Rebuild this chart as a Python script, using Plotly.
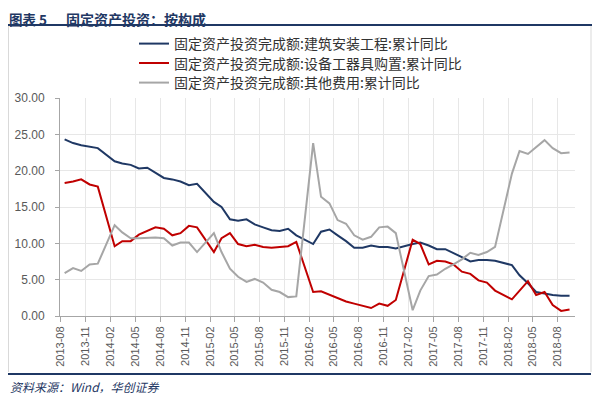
import plotly.graph_objects as go

# Months (Wind reports Jan+Feb together, so January is absent)
months = [
    "2013-08", "2013-09", "2013-10", "2013-11", "2013-12",
    "2014-02", "2014-03", "2014-04", "2014-05", "2014-06", "2014-07", "2014-08", "2014-09", "2014-10", "2014-11", "2014-12",
    "2015-02", "2015-03", "2015-04", "2015-05", "2015-06", "2015-07", "2015-08", "2015-09", "2015-10", "2015-11", "2015-12",
    "2016-02", "2016-03", "2016-04", "2016-05", "2016-06", "2016-07", "2016-08", "2016-09", "2016-10", "2016-11", "2016-12",
    "2017-02", "2017-03", "2017-04", "2017-05", "2017-06", "2017-07", "2017-08", "2017-09", "2017-10", "2017-11", "2017-12",
    "2018-02", "2018-03", "2018-04", "2018-05", "2018-06", "2018-07", "2018-08", "2018-09",
]

construction = [
    24.3, 23.8, 23.5, 23.3, 23.1,
    21.3, 21.0, 20.8, 20.3, 20.4, 19.7, 19.0, 18.8, 18.5, 18.0, 18.2,
    15.7, 15.0, 13.3, 13.1, 13.3, 12.6, 12.2, 11.8, 11.7, 12.0, 11.1,
    9.9, 11.6, 11.9, 11.1, 10.3, 9.4, 9.4, 9.7, 9.5, 9.5, 9.3,
    9.9, 10.1, 9.7, 9.2, 9.2, 8.7, 8.1, 7.5, 7.7, 7.7, 7.6,
    7.0, 5.6, 4.5, 3.3, 3.1, 2.9, 2.8, 2.8,
]

equipment = [
    18.3, 18.5, 18.8, 18.1, 17.8,
    9.6, 10.3, 10.3, 11.2, 11.7, 12.2, 12.0, 11.1, 11.4, 12.4, 12.2,
    8.8, 10.7, 11.4, 9.9, 9.6, 9.8, 9.5, 9.4, 9.5, 9.6, 10.2,
    3.3, 3.4, 2.9, 2.4, 2.0, 1.7, 1.4, 1.1, 1.7, 1.4, 2.2,
    10.5, 9.9, 7.1, 7.6, 7.5, 7.1, 6.1, 5.8, 4.9, 4.6, 3.5,
    2.3, 3.5, 4.8, 2.9, 3.3, 1.5, 0.7, 0.9,
]

other = [
    5.9, 6.6, 6.2, 7.1, 7.2,
    12.5, 11.5, 10.7, 10.7, 10.8, 10.8, 10.7, 9.7, 10.1, 10.1, 8.8,
    11.4, 8.8, 6.5, 5.4, 4.7, 5.1, 4.6, 3.6, 3.3, 2.6, 2.7,
    23.8, 16.4, 15.5, 13.2, 12.7, 11.1, 10.5, 10.9, 12.2, 12.3, 11.4,
    0.8, 3.5, 5.5, 5.7, 6.5, 7.1, 7.8, 8.7, 8.4, 8.8, 9.5,
    19.6, 22.7, 22.3, 23.3, 24.2, 23.1, 22.4, 22.5,
]

series_names = [
    "固定资产投资完成额:建筑安装工程:累计同比",
    "固定资产投资完成额:设备工器具购置:累计同比",
    "固定资产投资完成额:其他费用:累计同比",
]
series_colors = ["#1F3864", "#C00000", "#A6A6A6"]

title_label = "图表 5"
title_text = "固定资产投资：按构成"
source_text = "资料来源：Wind，华创证券"

x_dates = [m + "-15" for m in months]

# The page body has an 8px margin, so the figure is drawn 8px in from the window corner.
W, H = 592, 387
L, R, T, B = 52, 25, 90, 79
pw, ph = W - L - R, H - T - B


def px(xp):
    return (xp - L) / pw


def py(yp):
    return (H - B - yp) / ph


legend_keys = ["legend", "legend2", "legend3"]
legend_rows = [36, 55.5, 75]

fig = go.Figure()
for name, vals, col, lk in zip(series_names, [construction, equipment, other], series_colors, legend_keys):
    fig.add_trace(go.Scatter(x=x_dates, y=vals, name=name, mode="lines",
                             line=dict(color=col, width=2), legend=lk))

navy = "#1F3864"
shapes = [
    dict(type="line", xref="paper", yref="paper", x0=px(0), x1=px(592), y0=py(17), y1=py(17),
         line=dict(color=navy, width=2)),
    dict(type="line", xref="paper", yref="paper", x0=px(0.5), x1=px(0.5), y0=py(18), y1=py(364),
         line=dict(color="#D9D9D9", width=1)),
    dict(type="line", xref="paper", yref="paper", x0=px(583), x1=px(583), y0=py(18), y1=py(364),
         line=dict(color="#D9D9D9", width=1)),
    dict(type="line", xref="paper", yref="paper", x0=px(0), x1=px(583), y0=py(366), y1=py(366),
         line=dict(color=navy, width=2)),
]

annotations = [
    dict(text="<b>" + title_label + "</b>", xref="paper", yref="paper", x=px(0), y=py(0),
         xanchor="left", yanchor="top", showarrow=False, borderpad=0,
         font=dict(family="Noto Sans CJK SC", size=13.5, color=navy)),
    dict(text="<b>" + title_text + "</b>", xref="paper", yref="paper", x=px(57), y=py(0),
         xanchor="left", yanchor="top", showarrow=False, borderpad=0,
         font=dict(family="Noto Sans CJK SC", size=14, color=navy)),
    dict(text="<i>" + source_text + "</i>", xref="paper", yref="paper", x=px(0), y=py(378),
         xanchor="left", yanchor="middle", showarrow=False,
         font=dict(family="Noto Sans CJK SC", size=12, color=navy)),
]

layout_legends = {}
for lk, row in zip(legend_keys, legend_rows):
    layout_legends[lk] = dict(xref="paper", yref="paper", x=px(126), y=py(row),
                              xanchor="left", yanchor="middle", bgcolor="rgba(0,0,0,0)",
                              font=dict(family="Noto Sans CJK SC", size=14, color="#333333"),
                              itemwidth=30)

fig.update_layout(
    width=W, height=H,
    margin=dict(l=L, r=R, t=T, b=B, pad=0, autoexpand=False),
    paper_bgcolor="white", plot_bgcolor="white",
    showlegend=True,
    shapes=shapes,
    annotations=annotations,
    xaxis=dict(type="date", range=["2013-07-29", "2018-10-05"],
               tick0="2013-08-01", dtick="M3", tickformat="%Y-%m", tickangle=-90,
               showgrid=True, gridcolor="#E7E7E7", gridwidth=1,
               showline=True, linecolor="#A6A6A6", linewidth=1,
               ticks="outside", ticklen=5, tickcolor="#A6A6A6",
               tickfont=dict(family="Liberation Sans", size=11, color="#595959")),
    yaxis=dict(range=[0, 30], dtick=5, tick0=0, tickformat=".2f",
               showgrid=True, gridcolor="#E7E7E7", gridwidth=1, zeroline=False,
               showline=True, linecolor="#A6A6A6", linewidth=1,
               ticks="outside", ticklen=4, tickcolor="#A6A6A6", ticklabelstandoff=8,
               tickfont=dict(family="Liberation Sans", size=12, color="#595959")),
    **layout_legends,
)

fig.write_html("out.html")
